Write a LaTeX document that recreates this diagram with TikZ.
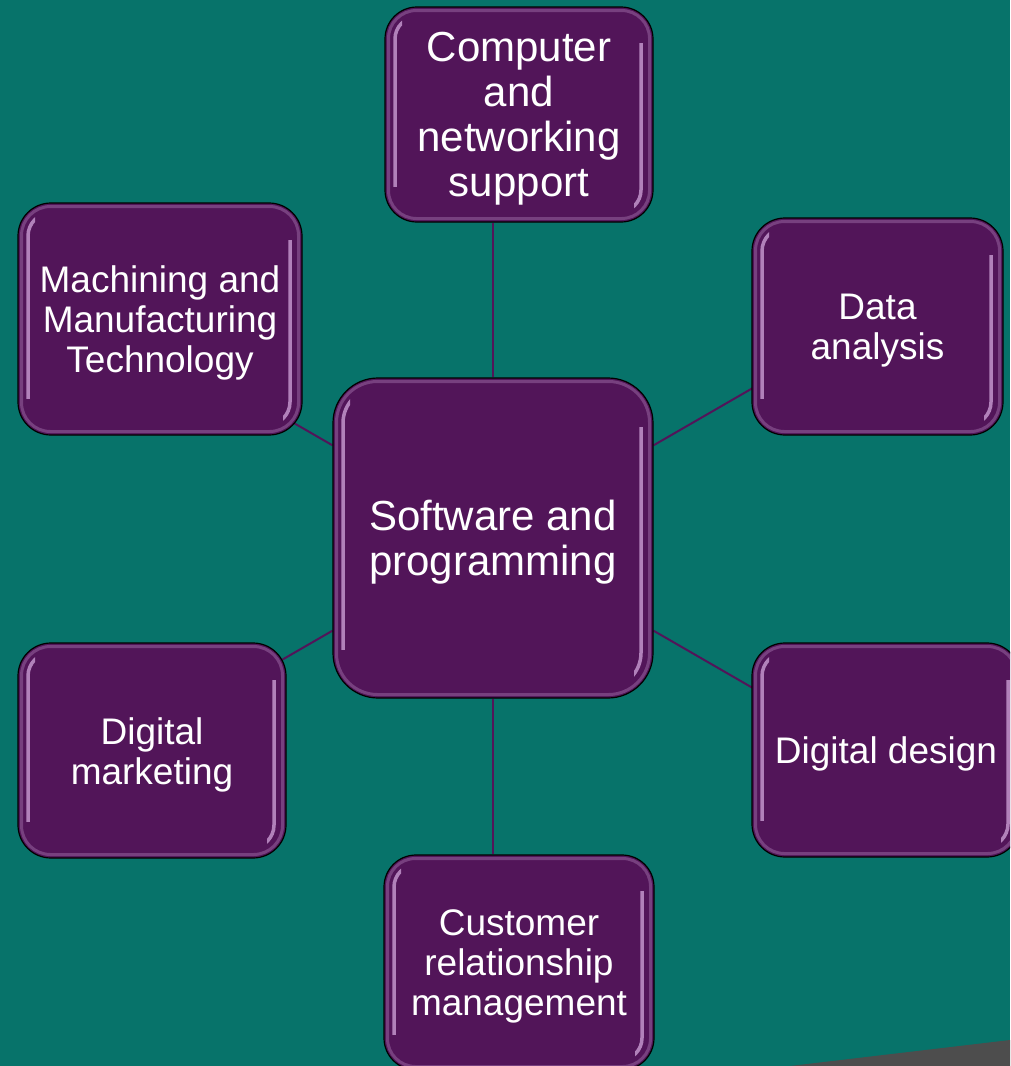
\documentclass[tikz,border=0pt]{standalone}
\usepackage{fontspec}
\setmainfont{Liberation Sans}
\usetikzlibrary{calc}
\definecolor{teal0}{RGB}{7,115,106}
\definecolor{boxpurple}{RGB}{82,21,89}
\definecolor{hilite}{RGB}{218,176,228}
\definecolor{greyband}{RGB}{77,77,77}
\pgfdeclarelayer{bg}
\pgfdeclarelayer{lines}
\pgfsetlayers{bg,lines,main}
\tikzset{
  bubble/.style={rectangle, draw=black, line width=1.2pt, fill=boxpurple, inner sep=0pt},
  bubbletext/.style={text=white, align=center, inner sep=0pt},
  hl/.style={draw=hilite, line width=3.5pt, opacity=0.7},
  rim/.style={draw=hilite, line width=3pt, opacity=0.28},
  conn/.style={draw=boxpurple, line width=2pt},
  bigtxt/.style={font=\fontsize{42}{45}\selectfont},
  smalltxt/.style={font=\fontsize{37}{40}\selectfont}
}
% name, cx, cy, w, h, r, text style, text
\newcommand\bubblebox[8]{%
  \node[bubble, minimum width=#4pt, minimum height=#5pt, rounded corners=#6pt] (#1) at (#2,#3) {};
  \pgfmathsetmacro\myrin{#6-4}
  \draw[rim, rounded corners=\myrin pt] ({#2-#4/2+3.5},{#3-#5/2+3.5}) rectangle ({#2+#4/2-3.5},{#3+#5/2-3.5});
  \pgfmathsetmacro\myrin{#6-10}
  \begin{scope}
    \clip ({#2-#4/2},{#3-#5/2}) rectangle ({#2-#4/2+17},{#3+#5/2-#6-4});
    \draw[hl, rounded corners=\myrin pt] ({#2-#4/2+10},{#3-#5/2+10}) rectangle ({#2+#4/2-12},{#3+#5/2-10});
  \end{scope}
  \begin{scope}
    \clip ({#2+#4/2-19},{#3-#5/2+#6+4}) rectangle ({#2+#4/2},{#3+#5/2});
    \draw[hl, rounded corners=\myrin pt] ({#2-#4/2+10},{#3-#5/2+10}) rectangle ({#2+#4/2-12},{#3+#5/2-10});
  \end{scope}
  \node[bubbletext, #7] (#1-text) at ($(#1.center)+(0,4)$) {#8};
}
\begin{document}
\begin{tikzpicture}[x=1pt, y=-1pt]
\useasboundingbox (0,0) rectangle (1010,1066);
\clip (0,0) rectangle (1010,1066);
\begin{pgfonlayer}{bg}
  \fill[teal0] (0,0) rectangle (1010,1066);
  \fill[greyband] (790,1066) -- (1010,1040) -- (1010,1066) -- cycle;
\end{pgfonlayer}

\bubblebox{c}{493}{538}{320}{320}{45}{bigtxt}{Software and\\programming}
\bubblebox{top}{519}{114.5}{268}{215}{32}{bigtxt}{Computer\\and\\networking\\support}
\bubblebox{mach}{160}{319}{284}{232}{33}{smalltxt}{Machining and\\Manufacturing\\Technology}
\bubblebox{da}{877.5}{326.5}{251}{217}{33}{smalltxt}{Data\\analysis}
\bubblebox{dm}{152}{750.5}{268}{215}{33}{smalltxt}{Digital\\marketing}
\bubblebox{dd}{886}{750}{268}{214}{33}{smalltxt}{Digital design}
\bubblebox{cust}{519}{962.5}{270}{215}{32}{smalltxt}{Customer\\relationship\\management}

\begin{pgfonlayer}{lines}
  \draw[conn] (c.north) -- (c.north |- top.south);
  \draw[conn] (c.south) -- (c.south |- cust.north);
  \draw[conn] (c.30) -- ($(c.center)!1.7!(c.30)$);
  \draw[conn] (c.-30) -- ($(c.center)!1.7!(c.-30)$);
  \draw[conn] (c.150) -- ($(c.center)!1.9!(c.150)$);
  \draw[conn] (c.210) -- ($(c.center)!1.9!(c.210)$);
\end{pgfonlayer}
\end{tikzpicture}
\end{document}
